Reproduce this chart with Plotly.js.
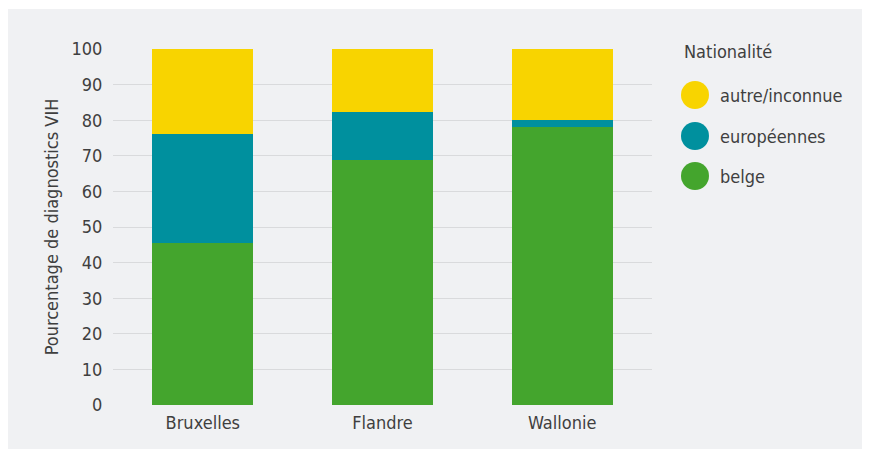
<!DOCTYPE html>
<html>
<head>
<meta charset="utf-8">
<script src="https://cdn.plot.ly/plotly-3.0.1.min.js"></script>
<style>
  html, body { margin: 0; padding: 0; background: #ffffff; }
  #chart { position: absolute; left: 8px; top: 9px; width: 854px; height: 440px; }
</style>
</head>
<body>
<div id="chart"></div>
<script>
// Data
const regions = ["Bruxelles", "Flandre", "Wallonie"];
const belge = [45.5, 68.8, 78.1];
const europeennes = [30.6, 13.5, 2.0];
const autre = [23.9, 17.7, 19.9];
const seriesNames = ["belge", "européennes", "autre/inconnue"];
const legendTitle = "Nationalité";
const yTitle = "Pourcentage de diagnostics VIH";
const yTicks = [0, 10, 20, 30, 40, 50, 60, 70, 80, 90, 100];

const colors = ["#44a52d", "#00909e", "#f8d400"];
const FONT = "'DejaVu Sans Condensed', 'DejaVu Sans', sans-serif";
const FS = 18;
const textColor = "#3f3f3f";

const seriesValues = [belge, europeennes, autre];
const traces = seriesValues.map((vals, i) => ({
  type: "bar",
  x: regions,
  y: vals,
  name: seriesNames[i],
  marker: { color: colors[i], line: { width: 0 } },
  showlegend: false,
  hoverinfo: "x+y+name"
}));

// Custom legend (large circles) drawn as shapes + annotations
const pw = 539, ph = 356;
const shapes = [];
const annotations = [{
  xref: "paper", yref: "paper",
  x: (682 - 113) / pw, y: (405 - 52) / ph, xanchor: "left", yanchor: "middle",
  text: legendTitle, showarrow: false,
  font: { family: FONT, size: FS, color: textColor }
}];
const legendOrder = [2, 1, 0];
const legendYpx = [95, 136, 176];
legendOrder.forEach((si, k) => {
  const cx = (695 - 113) / pw;
  const cy = (405 - legendYpx[k]) / ph;
  const rx = 14 / pw, ry = 14 / ph;
  shapes.push({
    type: "circle", xref: "paper", yref: "paper",
    x0: cx - rx, x1: cx + rx, y0: cy - ry, y1: cy + ry,
    fillcolor: colors[si], line: { width: 0 }
  });
  annotations.push({
    xref: "paper", yref: "paper",
    x: (718 - 113) / pw, y: cy, xanchor: "left", yanchor: "middle",
    text: seriesNames[si], showarrow: false,
    font: { family: FONT, size: FS, color: textColor }
  });
});

const layout = {
  width: 854, height: 440,
  paper_bgcolor: "#f0f1f3",
  plot_bgcolor: "#f0f1f3",
  margin: { l: 105, r: 210, t: 40, b: 44, pad: 0 },
  barmode: "stack",
  bargap: 0.437,
  showlegend: false,
  font: { family: FONT, size: FS, color: textColor },
  xaxis: {
    type: "category",
    categoryorder: "array", categoryarray: regions,
    showgrid: false, zeroline: false, showline: false,
    ticks: "outside", ticklen: 1, tickcolor: "rgba(0,0,0,0)",
    tickfont: { family: FONT, size: FS, color: textColor }
  },
  yaxis: {
    range: [0, 100],
    tickvals: yTicks,
    showgrid: true, gridcolor: "#d9dadc", gridwidth: 1,
    zeroline: false, showline: false,
    ticks: "outside", ticklen: 6, tickcolor: "rgba(0,0,0,0)",
    tickfont: { family: FONT, size: FS, color: textColor },
    title: { text: yTitle, font: { family: FONT, size: FS, color: textColor }, standoff: 8 }
  },
  shapes: shapes,
  annotations: annotations
};

Plotly.newPlot("chart", traces, layout, { displayModeBar: false, staticPlot: true });
</script>
</body>
</html>
